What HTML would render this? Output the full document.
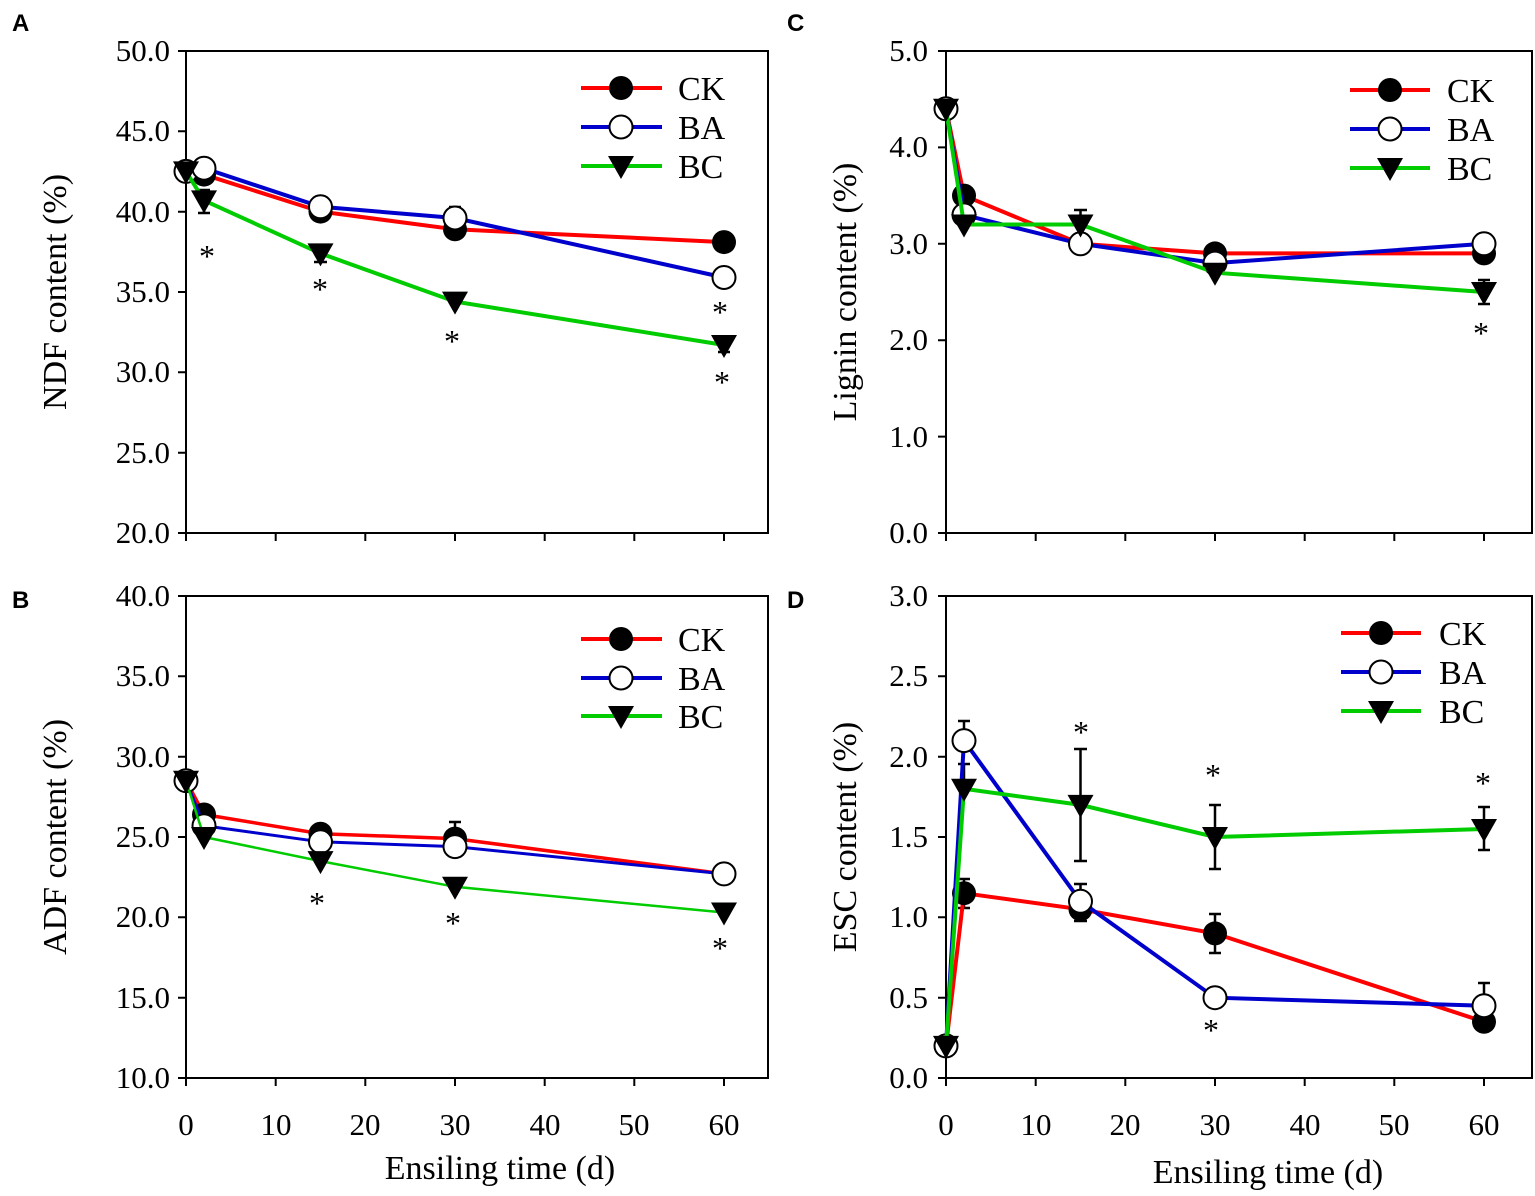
<!DOCTYPE html>
<html><head><meta charset="utf-8"><style>
html,body{margin:0;padding:0;background:#fff}
svg{display:block}
</style></head><body>
<svg width="1535" height="1196" viewBox="0 0 1535 1196" xmlns="http://www.w3.org/2000/svg">
<defs>
<circle id="ck" r="12" fill="#000"/>
<circle id="ba" r="11.5" fill="#fff" stroke="#000" stroke-width="2"/>
<polygon id="bc" points="-13,-10 13,-10 0,13" fill="#000"/>
</defs>
<g stroke="#000" stroke-width="2" fill="none">
<rect x="186" y="51" width="582" height="482"/>
<rect x="186" y="596" width="582" height="482"/>
<rect x="946" y="51" width="586" height="482"/>
<rect x="946" y="596" width="586" height="482"/>
<path d="M178,51h8M178,131.3h8M178,211.7h8M178,292h8M178,372.3h8M178,452.7h8M178,533h8"/>
<path d="M178,596h8M178,676.3h8M178,756.7h8M178,837h8M178,917.3h8M178,997.7h8M178,1078h8"/>
<path d="M938,51h8M938,147.4h8M938,243.8h8M938,340.2h8M938,436.6h8M938,533h8"/>
<path d="M938,596h8M938,676.3h8M938,756.7h8M938,837h8M938,917.3h8M938,997.7h8M938,1078h8"/>
<path d="M186,533v8M275.7,533v8M365.3,533v8M455,533v8M544.7,533v8M634.3,533v8M724,533v8"/>
<path d="M186,1078v8M275.7,1078v8M365.3,1078v8M455,1078v8M544.7,1078v8M634.3,1078v8M724,1078v8"/>
<path d="M946,533v8M1035.7,533v8M1125.3,533v8M1215,533v8M1304.7,533v8M1394.3,533v8M1484,533v8"/>
<path d="M946,1078v8M1035.7,1078v8M1125.3,1078v8M1215,1078v8M1304.7,1078v8M1394.3,1078v8M1484,1078v8"/>
</g>
<g font-family="Liberation Serif, serif" font-size="31" fill="#000" text-anchor="end">
<text x="170" y="61">50.0</text><text x="170" y="141">45.0</text><text x="170" y="222">40.0</text><text x="170" y="302">35.0</text><text x="170" y="382">30.0</text><text x="170" y="463">25.0</text><text x="170" y="543">20.0</text>
<text x="170" y="606">40.0</text><text x="170" y="686">35.0</text><text x="170" y="767">30.0</text><text x="170" y="847">25.0</text><text x="170" y="927">20.0</text><text x="170" y="1008">15.0</text><text x="170" y="1088">10.0</text>
<text x="928" y="61">5.0</text><text x="928" y="157">4.0</text><text x="928" y="254">3.0</text><text x="928" y="350">2.0</text><text x="928" y="447">1.0</text><text x="928" y="543">0.0</text>
<text x="928" y="606">3.0</text><text x="928" y="686">2.5</text><text x="928" y="767">2.0</text><text x="928" y="847">1.5</text><text x="928" y="927">1.0</text><text x="928" y="1008">0.5</text><text x="928" y="1088">0.0</text>
</g>
<g font-family="Liberation Serif, serif" font-size="31" fill="#000" text-anchor="middle">
<text x="186" y="1135">0</text><text x="276" y="1135">10</text><text x="365" y="1135">20</text><text x="455" y="1135">30</text><text x="545" y="1135">40</text><text x="634" y="1135">50</text><text x="724" y="1135">60</text>
<text x="946" y="1135">0</text><text x="1036" y="1135">10</text><text x="1125" y="1135">20</text><text x="1215" y="1135">30</text><text x="1305" y="1135">40</text><text x="1394" y="1135">50</text><text x="1484" y="1135">60</text>
</g>
<g font-family="Liberation Serif, serif" font-size="34" fill="#000" text-anchor="middle">
<text x="500" y="1179">Ensiling time (d)</text>
<text x="1268" y="1183">Ensiling time (d)</text>
<text transform="translate(66,292) rotate(-90)">NDF content (%)</text>
<text transform="translate(66,837) rotate(-90)">ADF content (%)</text>
<text transform="translate(856,292) rotate(-90)">Lignin content (%)</text>
<text transform="translate(856,837) rotate(-90)">ESC content (%)</text>
</g>
<g font-family="Liberation Sans, sans-serif" font-size="24" font-weight="bold" fill="#000"><text x="12" y="31">A</text><text x="12" y="608">B</text><text x="787" y="31">C</text><text x="787" y="608">D</text></g>

<g stroke="#000" stroke-width="2.5" fill="none">
<path d="M204,190v23M198,190h12M198,213h12"/>
<path d="M320.5,245v17M314,245h13M314,262h13"/>
<path d="M320.5,198v9M314,198h13"/>
<path d="M455,207v11M449,207h12"/>
<path d="M724,338v14M718,352h12"/>
<path d="M455,822v17M449,822h12"/>
<path d="M1080.5,210v15M1074,210h13"/>
<path d="M1484,280v24M1478,280h12M1478,304h12"/>
<path d="M964,721v20M958,721h12M964,788v-24M958,764h12"/>
<path d="M964,879v29M958,879h12M958,908h12"/>
<path d="M1080.5,749v112M1074,749h13M1074,861h13"/>
<path d="M1080.5,884v37M1074,884h13M1074,921h13"/>
<path d="M1215,805v64M1209,805h12M1209,869h12"/>
<path d="M1215,914v39M1209,914h12M1209,953h12"/>
<path d="M1484,807v43M1478,807h12M1478,850h12"/>
<path d="M1484,983v23M1478,983h12"/>
</g>

<polyline points="186,171.4 204,174.6 320.5,211.6 455,229.3 724,242.1" fill="none" stroke="#f00" stroke-width="4"/>
<use href="#ck" x="186" y="171.4"/><use href="#ck" x="204" y="174.6"/><use href="#ck" x="320.5" y="211.6"/><use href="#ck" x="455" y="229.3"/><use href="#ck" x="724" y="242.1"/>
<polyline points="186,171.4 204,168.2 320.5,206.8 455,218 724,277.5" fill="none" stroke="#00c" stroke-width="4"/>
<use href="#ba" x="186" y="171.4"/><use href="#ba" x="204" y="168.2"/><use href="#ba" x="320.5" y="206.8"/><use href="#ba" x="455" y="218"/><use href="#ba" x="724" y="277.5"/>
<polyline points="186,171.4 204,200.4 320.5,253.4 455,301.6 724,345" fill="none" stroke="#0c0" stroke-width="4"/>
<use href="#bc" x="186" y="171.4"/><use href="#bc" x="204" y="200.4"/><use href="#bc" x="320.5" y="253.4"/><use href="#bc" x="455" y="301.6"/><use href="#bc" x="724" y="345"/>

<polyline points="186,780.7 204,814.5 320.5,833.7 455,838.6 724,873.9" fill="none" stroke="#f00" stroke-width="3.5"/>
<use href="#ck" x="186" y="780.7"/><use href="#ck" x="204" y="814.5"/><use href="#ck" x="320.5" y="833.7"/><use href="#ck" x="455" y="838.6"/><use href="#ck" x="724" y="873.9"/>
<polyline points="186,780.7 204,825.7 320.5,841.8 455,846.6 724,873.9" fill="none" stroke="#00c" stroke-width="3"/>
<use href="#ba" x="186" y="780.7"/><use href="#ba" x="204" y="825.7"/><use href="#ba" x="320.5" y="841.8"/><use href="#ba" x="455" y="846.6"/><use href="#ba" x="724" y="873.9"/>
<polyline points="186,780.7 204,837 320.5,861.1 455,886.8 724,912.5" fill="none" stroke="#0c0" stroke-width="2.5"/>
<use href="#bc" x="186" y="780.7"/><use href="#bc" x="204" y="837"/><use href="#bc" x="320.5" y="861.1"/><use href="#bc" x="455" y="886.8"/><use href="#bc" x="724" y="912.5"/>

<polyline points="946,108.8 964,195.6 1080.5,243.8 1215,253.4 1484,253.4" fill="none" stroke="#f00" stroke-width="4"/>
<use href="#ck" x="946" y="108.8"/><use href="#ck" x="964" y="195.6"/><use href="#ck" x="1080.5" y="243.8"/><use href="#ck" x="1215" y="253.4"/><use href="#ck" x="1484" y="253.4"/>
<polyline points="946,108.8 964,214.9 1080.5,243.8 1215,263.1 1484,243.8" fill="none" stroke="#00c" stroke-width="4"/>
<use href="#ba" x="946" y="108.8"/><use href="#ba" x="964" y="214.9"/><use href="#ba" x="1080.5" y="243.8"/><use href="#ba" x="1215" y="263.1"/><use href="#ba" x="1484" y="243.8"/>
<polyline points="946,108.8 964,224.5 1080.5,224.5 1215,272.7 1484,292" fill="none" stroke="#0c0" stroke-width="4"/>
<use href="#bc" x="946" y="108.8"/><use href="#bc" x="964" y="224.5"/><use href="#bc" x="1080.5" y="224.5"/><use href="#bc" x="1215" y="272.7"/><use href="#bc" x="1484" y="292"/>

<polyline points="946,1045.9 964,893.2 1080.5,909.3 1215,933.4 1484,1021.8" fill="none" stroke="#f00" stroke-width="4"/>
<use href="#ck" x="946" y="1045.9"/><use href="#ck" x="964" y="893.2"/><use href="#ck" x="1080.5" y="909.3"/><use href="#ck" x="1215" y="933.4"/><use href="#ck" x="1484" y="1021.8"/>
<polyline points="946,1045.9 964,740.6 1080.5,901.3 1215,997.7 1484,1005.7" fill="none" stroke="#00c" stroke-width="4"/>
<use href="#ba" x="946" y="1045.9"/><use href="#ba" x="964" y="740.6"/><use href="#ba" x="1080.5" y="901.3"/><use href="#ba" x="1215" y="997.7"/><use href="#ba" x="1484" y="1005.7"/>
<polyline points="946,1045.9 964,788.8 1080.5,804.9 1215,837 1484,829" fill="none" stroke="#0c0" stroke-width="4"/>
<use href="#bc" x="946" y="1045.9"/><use href="#bc" x="964" y="788.8"/><use href="#bc" x="1080.5" y="804.9"/><use href="#bc" x="1215" y="837"/><use href="#bc" x="1484" y="829"/>

<g font-family="Liberation Serif, serif" font-size="32" fill="#000" text-anchor="middle">
<text x="207" y="267">*</text><text x="320" y="300">*</text><text x="452" y="352">*</text><text x="720" y="323">*</text><text x="722" y="393">*</text>
<text x="317" y="914">*</text><text x="453" y="934">*</text><text x="720" y="959">*</text>
<text x="1481" y="344">*</text>
<text x="1081" y="743">*</text><text x="1213" y="786">*</text><text x="1483" y="794">*</text><text x="1211" y="1041">*</text>
</g>

<g stroke-width="4">
<line x1="581" y1="88" x2="662" y2="88" stroke="#f00"/><line x1="581" y1="127" x2="662" y2="127" stroke="#00c"/><line x1="581" y1="166" x2="662" y2="166" stroke="#0c0"/>
<line x1="581" y1="639" x2="662" y2="639" stroke="#f00"/><line x1="581" y1="678" x2="662" y2="678" stroke="#00c"/><line x1="581" y1="716" x2="662" y2="716" stroke="#0c0"/>
<line x1="1350" y1="90" x2="1430" y2="90" stroke="#f00"/><line x1="1350" y1="129" x2="1430" y2="129" stroke="#00c"/><line x1="1350" y1="168" x2="1430" y2="168" stroke="#0c0"/>
<line x1="1341" y1="633" x2="1421" y2="633" stroke="#f00"/><line x1="1341" y1="672" x2="1421" y2="672" stroke="#00c"/><line x1="1341" y1="711" x2="1421" y2="711" stroke="#0c0"/>
</g>
<use href="#ck" x="621" y="88"/><use href="#ba" x="621" y="127"/><use href="#bc" x="621" y="166"/>
<use href="#ck" x="621" y="639"/><use href="#ba" x="621" y="678"/><use href="#bc" x="621" y="716"/>
<use href="#ck" x="1390" y="90"/><use href="#ba" x="1390" y="129"/><use href="#bc" x="1390" y="168"/>
<use href="#ck" x="1381" y="633"/><use href="#ba" x="1381" y="672"/><use href="#bc" x="1381" y="711"/>
<g font-family="Liberation Serif, serif" font-size="34" fill="#000">
<text x="678" y="100">CK</text><text x="678" y="139">BA</text><text x="678" y="178">BC</text>
<text x="678" y="651">CK</text><text x="678" y="690">BA</text><text x="678" y="728">BC</text>
<text x="1447" y="102">CK</text><text x="1447" y="141">BA</text><text x="1447" y="180">BC</text>
<text x="1439" y="645">CK</text><text x="1439" y="684">BA</text><text x="1439" y="723">BC</text>
</g>
</svg>
</body></html>
